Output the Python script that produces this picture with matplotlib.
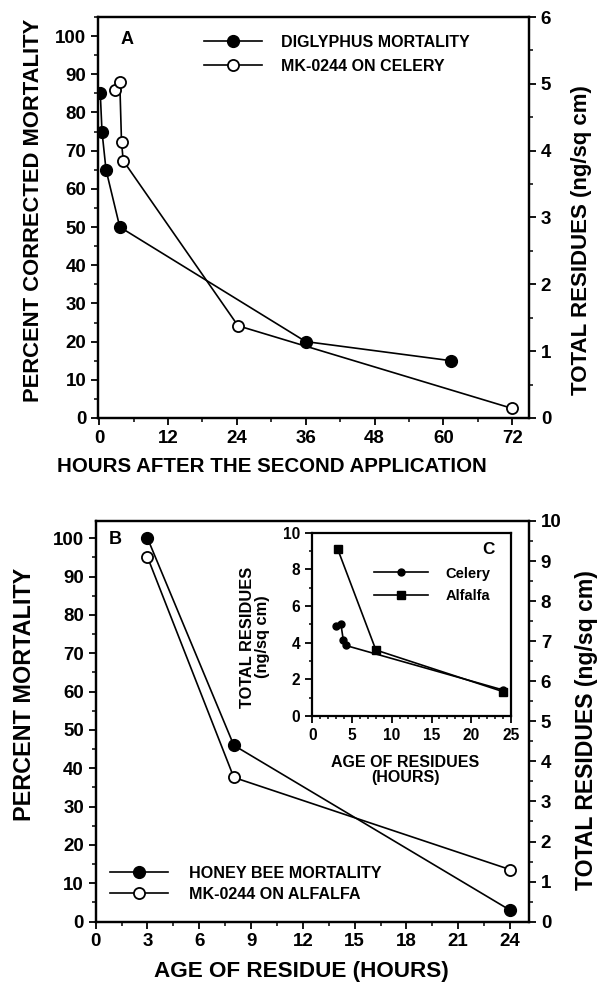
import numpy as np
import matplotlib
matplotlib.use("Agg")
import matplotlib.pyplot as plt
from matplotlib.ticker import MultipleLocator
from matplotlib.lines import Line2D

plt.rcParams['font.family'] = ['Liberation Sans', 'DejaVu Sans']
plt.rcParams['font.weight'] = 'bold'

# panel A: diglyphus mortality (left axis) and residues on celery (right axis)
a_mort_hours = [0.2, 0.5, 1.2, 3.6, 36, 61.3]
a_mort_pct = [85, 75, 65, 50, 20, 15]
a_res_hours = [2.8, 3.6, 3.9, 4.2, 24.2, 71.9]
a_res_ng = [4.91, 5.02, 4.13, 3.85, 1.38, 0.145]

# panel B: honey bee mortality (left axis) and residues on alfalfa (right axis)
b_mort_hours = [3, 8, 24]
b_mort_pct = [100, 46, 3]
b_res_hours = [3, 8, 24]
b_res_ng = [9.1, 3.6, 1.3]

# inset C: residues on celery and alfalfa
c_celery_hours = [3.0, 3.6, 3.9, 4.2, 24]
c_celery_ng = [4.9, 5.0, 4.15, 3.85, 1.42]
c_alfalfa_hours = [3.2, 8.0, 24]
c_alfalfa_ng = [9.1, 3.6, 1.33]

W, H = 600, 983
LW = 1.2
SPW = 1.6


def style_axis(ax, size=13.5):
    for s in ax.spines.values():
        s.set_linewidth(SPW)
    ax.tick_params(which='major', direction='out', length=5, width=1.3, labelsize=size)
    ax.tick_params(which='minor', direction='out', length=3, width=1.1)


def label(fig, x, y, s, size, rot=0, ls=1.2):
    # place text by pixel position of its centre
    fig.text(x / W, 1 - y / H, s, fontsize=size, fontweight='bold', rotation=rot,
             ha='center', va='center', linespacing=ls)


fig = plt.figure(figsize=(6, 9.83), dpi=100)

# ---------------- panel A
ax1 = fig.add_axes([0.1633, 0.5748, 0.7183, 0.4079])
ax1r = ax1.twinx()
ax1.plot(a_mort_hours, a_mort_pct, '-o', color='black', lw=LW, ms=8.5,
         mfc='black', mec='black', zorder=3)
ax1r.plot(a_res_hours, a_res_ng, '-o', color='black', lw=LW, ms=8,
          mfc='white', mec='black', mew=1.3, zorder=3)
ax1.set_xlim(-0.2, 74.9)
ax1.set_ylim(0, 105)
ax1r.set_ylim(0, 6)
ax1.set_xticks([0, 12, 24, 36, 48, 60, 72])
ax1.xaxis.set_minor_locator(MultipleLocator(6))
ax1.set_yticks(np.arange(0, 101, 10))
ax1.yaxis.set_minor_locator(MultipleLocator(5))
ax1r.set_yticks(np.arange(0, 7, 1))
ax1r.yaxis.set_minor_locator(MultipleLocator(0.5))
style_axis(ax1)
style_axis(ax1r)
label(fig, 272, 467, 'HOURS AFTER THE SECOND APPLICATION', 14.8)
label(fig, 34, 210, 'PERCENT CORRECTED MORTALITY', 15.8, rot=90)
label(fig, 582, 240, 'TOTAL RESIDUES (ng/sq cm)', 16, rot=90)
ax1.text(0.067, 0.943, 'A', transform=ax1.transAxes, fontsize=13, fontweight='bold',
         ha='center', va='center')
hA = [Line2D([], [], color='black', lw=LW, marker='o', ms=8.5, mfc='black', mec='black'),
      Line2D([], [], color='black', lw=LW, marker='o', ms=8, mfc='white', mec='black', mew=1.3)]
ax1r.legend(hA, ['DIGLYPHUS MORTALITY', 'MK-0244 ON CELERY'], loc='upper left',
            bbox_to_anchor=(0.246, 0.955), frameon=False, borderpad=0, borderaxespad=0,
            handlelength=3.6, handletextpad=1.25, labelspacing=0.55,
            prop={'size': 11.5, 'weight': 'bold'})

# ---------------- panel B
ax2 = fig.add_axes([0.1595, 0.0624, 0.7222, 0.4076])
ax2r = ax2.twinx()
ax2.plot(b_mort_hours, b_mort_pct, '-o', color='black', lw=LW, ms=8.5,
         mfc='black', mec='black', zorder=3)
ax2r.plot(b_res_hours, b_res_ng, '-o', color='black', lw=LW, ms=8,
          mfc='white', mec='black', mew=1.3, zorder=3)
ax2.set_xlim(0, 25.1)
ax2.set_ylim(0, 104.5)
ax2r.set_ylim(0, 9.92)
ax2.set_xticks(np.arange(0, 25, 3))
ax2.xaxis.set_minor_locator(MultipleLocator(1.5))
ax2.set_yticks(np.arange(0, 101, 10))
ax2.yaxis.set_minor_locator(MultipleLocator(5))
ax2r.set_yticks(np.arange(0, 11, 1))
ax2r.yaxis.set_minor_locator(MultipleLocator(0.5))
style_axis(ax2)
style_axis(ax2r)
label(fig, 301, 972, 'AGE OF RESIDUE (HOURS)', 16.2)
label(fig, 25, 694, 'PERCENT MORTALITY', 16.8, rot=90)
label(fig, 586, 730, 'TOTAL RESIDUES (ng/sq cm)', 16.6, rot=90)
ax2.text(0.045, 0.955, 'B', transform=ax2.transAxes, fontsize=13, fontweight='bold',
         ha='center', va='center')
hB = [Line2D([], [], color='black', lw=LW, marker='o', ms=8.5, mfc='black', mec='black'),
      Line2D([], [], color='black', lw=LW, marker='o', ms=8, mfc='white', mec='black', mew=1.3)]
ax2r.legend(hB, ['HONEY BEE MORTALITY', 'MK-0244 ON ALFALFA'], loc='lower left',
            bbox_to_anchor=(0.033, 0.05), frameon=False, borderpad=0, borderaxespad=0,
            handlelength=3.6, handletextpad=1.3, labelspacing=0.35,
            prop={'size': 11.6, 'weight': 'bold'})

# ---------------- inset C
ax3 = fig.add_axes([0.5205, 0.2716, 0.3312, 0.1865])
ax3.plot(c_celery_hours, c_celery_ng, '-o', color='black', lw=LW, ms=5, zorder=3)
ax3.plot(c_alfalfa_hours, c_alfalfa_ng, '-s', color='black', lw=LW, ms=6, zorder=3)
ax3.set_xlim(0, 25)
ax3.set_ylim(0, 10)
ax3.set_xticks(np.arange(0, 26, 5))
ax3.xaxis.set_minor_locator(MultipleLocator(1))
ax3.set_yticks(np.arange(0, 11, 2))
ax3.yaxis.set_minor_locator(MultipleLocator(1))
style_axis(ax3, size=11.2)
ax3.tick_params(which='minor', length=2)
label(fig, 405, 770, 'AGE OF RESIDUES\n(HOURS)', 11.5, ls=1.05)
label(fig, 255, 637, 'TOTAL RESIDUES\n(ng/sq cm)', 11.8, rot=90, ls=1.0)
ax3.text(0.886, 0.909, 'C', transform=ax3.transAxes, fontsize=12.3, fontweight='bold',
         ha='center', va='center')
hC = [Line2D([], [], color='black', lw=LW, marker='o', ms=5),
      Line2D([], [], color='black', lw=LW, marker='s', ms=6)]
ax3.legend(hC, ['Celery', 'Alfalfa'], loc='upper left', bbox_to_anchor=(0.31, 0.815),
           frameon=False, borderpad=0, borderaxespad=0, handlelength=3.7,
           handletextpad=1.23, labelspacing=0.55, prop={'size': 10.5, 'weight': 'bold'})

fig.savefig('out.png', dpi=100)
plt.close(fig)
